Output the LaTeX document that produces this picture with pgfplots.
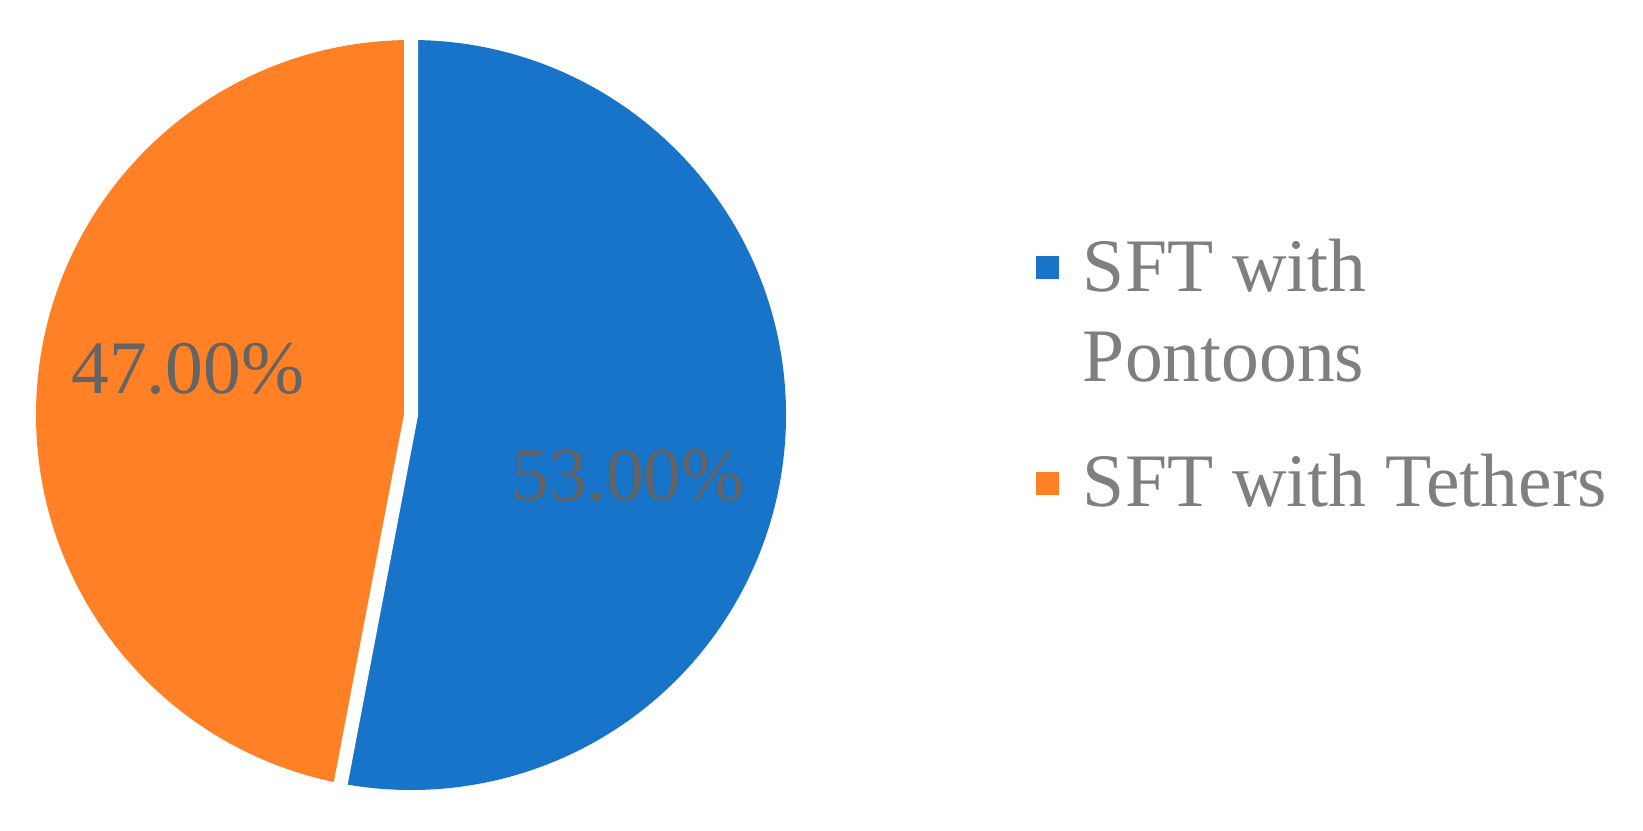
\documentclass[border=0pt]{standalone}
\usepackage{fontspec}
\setmainfont{Liberation Serif}
\usepackage{pgfplots}
\usepackage{pgfplotstable}
\pgfplotsset{compat=1.18}

\definecolor{pieblue}{HTML}{1874C9}
\definecolor{pieorange}{HTML}{FF8025}
\definecolor{labelgrey}{HTML}{646464}
\definecolor{legendgrey}{HTML}{7F7F7F}

% share of each structure type (%)
\pgfplotstableread{
label value
Pontoons 53
Tethers 47
}\piedata

\begin{document}
\begin{tikzpicture}
\useasboundingbox (0,0) rectangle (16.43,8.30);
\pgfplotstablegetelem{0}{value}\of\piedata \let\vblue\pgfplotsretval
\pgfplotstablegetelem{1}{value}\of\piedata \let\vorange\pgfplotsretval
\pgfmathsetmacro{\splitangle}{90-3.6*\vblue}
\begin{axis}[
    at={(4.11cm,4.15cm)}, anchor=center,
    scale only axis, width=7.5cm, height=7.5cm,
    xmin=-1, xmax=1, ymin=-1, ymax=1,
    hide axis, clip=false,
    legend image code/.code={\fill[#1] (-0.01cm,0.12cm) rectangle (0.22cm,0.35cm);},
    legend style={
        at={(1.3333,0.7347)}, anchor=north west,
        draw=none, fill=none, inner sep=0pt, outer sep=0pt,
        row sep=44.8pt, column sep=0.24cm,
        font=\fontsize{21.5pt}{25.5pt}\selectfont, text=legendgrey,
        cells={anchor=base west},
        nodes={inner sep=0pt},
    },
]
% slices
\fill[pieblue] (axis cs:0,0) -- (axis cs:0,1)
    arc[start angle=90, end angle=\splitangle, radius=3.75cm] -- cycle;
\fill[pieorange] (axis cs:0,0) -- (axis cs:0,1)
    arc[start angle=90, end angle=\splitangle+360, radius=3.75cm] -- cycle;
% white borders between the slices
\draw[white, line width=0.14cm] (axis cs:0,1.05) -- (axis cs:0,0)
    -- (axis cs:{1.05*cos(\splitangle)},{1.05*sin(\splitangle)});

% data labels
\node[text=labelgrey, font=\fontsize{21.5pt}{24.4pt}\selectfont, inner sep=0pt]
    at (axis cs:0.579,-0.163)
    {\pgfmathprintnumber[fixed, fixed zerofill, precision=2, assume math mode=true]{\vblue}\%};
\node[text=labelgrey, font=\fontsize{21.5pt}{24.4pt}\selectfont, inner sep=0pt]
    at (axis cs:-0.595,0.123)
    {\pgfmathprintnumber[fixed, fixed zerofill, precision=2, assume math mode=true]{\vorange}\%};

\addlegendimage{fill=pieblue, draw=none}
\addlegendentry{\parbox[t]{5cm}{\raggedright SFT with\\Pontoons}}
\addlegendimage{fill=pieorange, draw=none}
\addlegendentry{SFT with Tethers}
\end{axis}
\end{tikzpicture}
\end{document}
